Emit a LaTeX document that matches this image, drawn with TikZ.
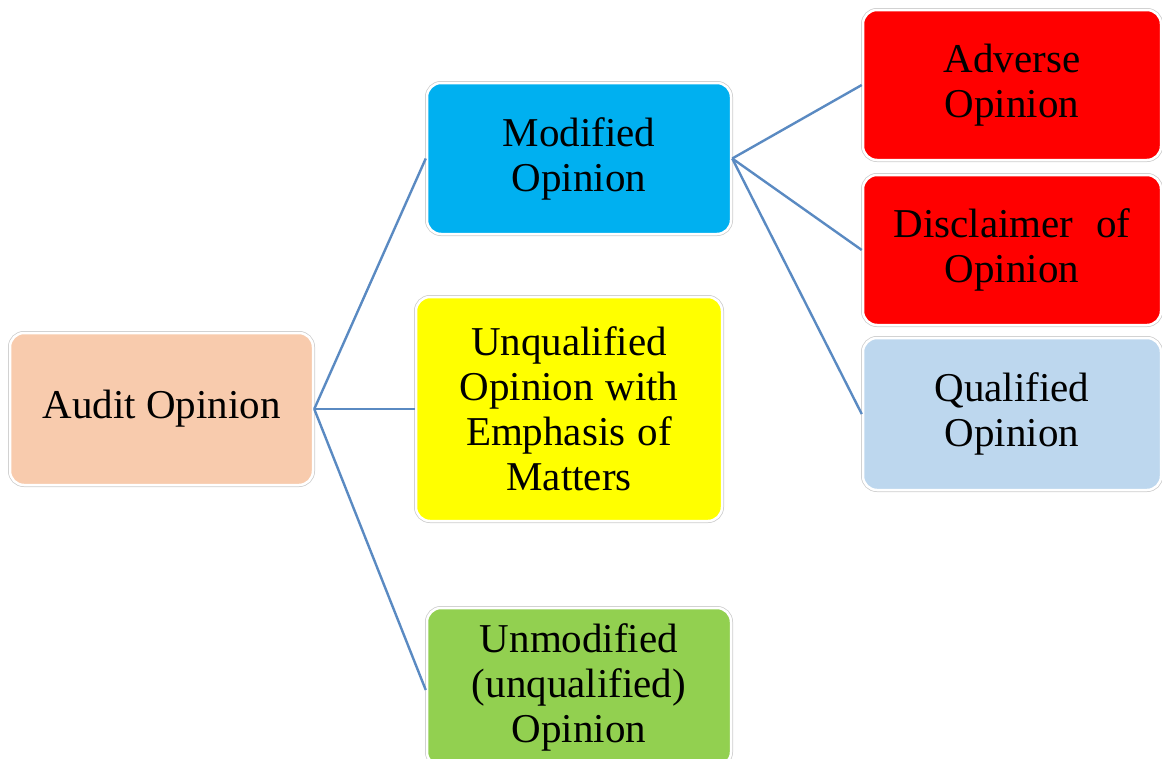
\documentclass[tikz,border=0pt]{standalone}
\usepackage{fontspec}
\setmainfont{Liberation Serif}
\definecolor{peach}{HTML}{F8CBAD}
\definecolor{skyblue}{HTML}{00B0F0}
\definecolor{brightyellow}{HTML}{FFFF00}
\definecolor{leafgreen}{HTML}{92D050}
\definecolor{alertred}{HTML}{FF0000}
\definecolor{paleblue}{HTML}{BDD7EE}
\definecolor{linkblue}{HTML}{5A8AC2}
\begin{document}
\begin{tikzpicture}[x=1pt,y=-1pt,
  box/.style={rectangle, rounded corners=14pt, draw=white, line width=2.5pt,
    preaction={draw=black!20, line width=4pt},
    font=\fontsize{41}{45}\selectfont, align=center, inner sep=0pt, text=black},
  conn/.style={draw=linkblue, line width=2.4pt}]
  \useasboundingbox (0,0) rectangle (1162,758);

  % root
  \node[box, fill=peach, minimum width=303pt, minimum height=152pt] (audit) at (161.5,409) {Audit Opinion};

  % second level
  \node[box, fill=skyblue, minimum width=304pt, minimum height=151pt] (modified) at (579,158.5) {Modified\\Opinion};
  \node[box, fill=brightyellow, minimum width=306pt, minimum height=224pt] (emphasis) at (569,409)
    {Unqualified\\\makebox[219pt][s]{Opinion\hfill with}\\\makebox[206pt][s]{Emphasis\hfill of}\\Matters};
  \node[box, fill=leafgreen, minimum width=304pt, minimum height=158pt] (unmodified) at (579,687) {Unmodified\\(unqualified)\\Opinion};

  % third level
  \node[box, fill=alertred, minimum width=298pt, minimum height=150pt] (adverse) at (1012,85) {Adverse\\Opinion};
  \node[box, fill=alertred, minimum width=298pt, minimum height=150pt] (disclaimer) at (1012,250)
    {\makebox[237pt][s]{Disclaimer\hfill of}\\Opinion};
  \node[box, fill=paleblue, minimum width=298pt, minimum height=152pt] (qualified) at (1012,414) {Qualified\\Opinion};

  % connectors
  \draw[conn] (audit.east) -- (modified.west);
  \draw[conn] (audit.east) -- (emphasis.west);
  \draw[conn] (audit.east) -- ([yshift=-3pt]unmodified.west);
  \draw[conn] (modified.east) -- (adverse.west);
  \draw[conn] (modified.east) -- (disclaimer.west);
  \draw[conn] (modified.east) -- (qualified.west);
\end{tikzpicture}
\end{document}
